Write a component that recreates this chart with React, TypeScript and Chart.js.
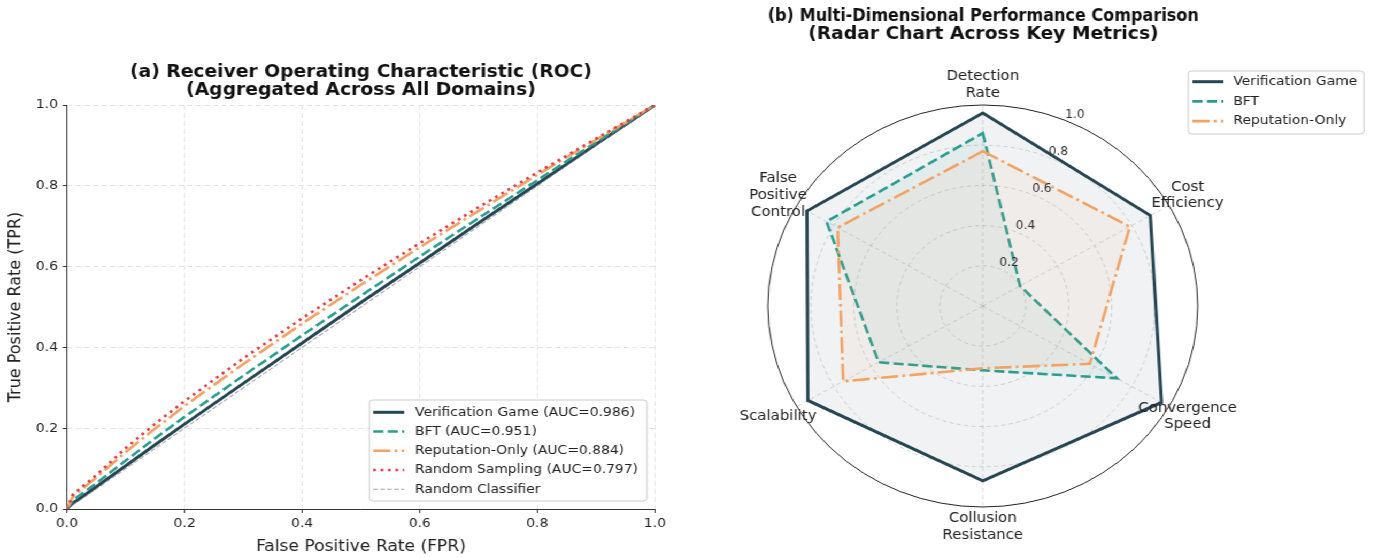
import React, { useEffect, useRef } from 'react';
import { Chart, registerables } from 'chart.js';

Chart.register(...registerables);

// ---------- data ----------
const fprPoints = [0, 0.01, 0.02, 0.05, 0.1, 0.15, 0.2, 0.3, 0.4, 0.5, 0.6, 0.7, 0.8, 0.9, 1.0];
const tprVerification = [0, 0.015, 0.024, 0.055, 0.107, 0.159, 0.21, 0.311, 0.411, 0.511, 0.609, 0.708, 0.805, 0.903, 1.0];
const tprBFT = [0, 0.021, 0.032, 0.064, 0.12, 0.175, 0.228, 0.33, 0.43, 0.528, 0.625, 0.72, 0.814, 0.908, 1.0];
const tprReputation = [0, 0.03, 0.042, 0.078, 0.141, 0.199, 0.255, 0.359, 0.459, 0.555, 0.648, 0.738, 0.827, 0.914, 1.0];
const tprRandomSampling = [0, 0.036, 0.048, 0.084, 0.151, 0.211, 0.267, 0.373, 0.472, 0.567, 0.658, 0.747, 0.833, 0.917, 1.0];
const diagonalX = [0, 1];
const diagonalY = [0, 1];
const rocLabels = [
  'Verification Game (AUC=0.986)',
  'BFT (AUC=0.951)',
  'Reputation-Only (AUC=0.884)',
  'Random Sampling (AUC=0.797)',
  'Random Classifier',
];
const rocTitle = ['(a) Receiver Operating Characteristic (ROC)', '(Aggregated Across All Domains)'];

const radarAxes = [
  ['Detection', 'Rate'],
  ['Cost', 'Efficiency'],
  ['Convergence', 'Speed'],
  ['Collusion', 'Resistance'],
  ['Scalability'],
  ['False', 'Positive', 'Control'],
];
const radarVerification = [0.96, 0.9, 0.96, 0.87, 0.94, 0.945];
const radarBFT = [0.86, 0.2, 0.72, 0.32, 0.56, 0.84];
const radarReputation = [0.77, 0.79, 0.575, 0.31, 0.75, 0.78];
const radarSeries = ['Verification Game', 'BFT', 'Reputation-Only'];
const radarTicks = [0.2, 0.4, 0.6, 0.8, 1.0];
const radarTitle = ['(b) Multi-Dimensional Performance Comparison', '(Radar Chart Across Key Metrics)'];

// ---------- styles ----------
const FONT = '"DejaVu Sans", "Liberation Sans", sans-serif';
const DESIGN_W = 1285.7;
const SX = 1375 / DESIGN_W;
const C_VG = '#264653';
const C_BFT = '#2a9d8f';
const C_REP = '#f4a261';
const C_RS = '#e63946';
const DASH_BFT = [9.5, 4];
const DASH_REP = [16, 4, 2.6, 4];
const DASH_RS = [2.6, 4.3];

type LegendBox = { x: number; y: number; w: number; h: number; row0: number; gap: number; l0: number; l1: number; tx: number };

function drawLegend(chart: any, box: LegendBox) {
  const ctx: CanvasRenderingContext2D = chart.ctx;
  ctx.save();
  ctx.beginPath();
  const r = 3;
  ctx.moveTo(box.x + r, box.y);
  ctx.arcTo(box.x + box.w, box.y, box.x + box.w, box.y + box.h, r);
  ctx.arcTo(box.x + box.w, box.y + box.h, box.x, box.y + box.h, r);
  ctx.arcTo(box.x, box.y + box.h, box.x, box.y, r);
  ctx.arcTo(box.x, box.y, box.x + box.w, box.y, r);
  ctx.closePath();
  ctx.fillStyle = 'rgba(255,255,255,0.85)';
  ctx.fill();
  ctx.strokeStyle = '#cccccc';
  ctx.lineWidth = 1;
  ctx.stroke();
  chart.data.datasets.forEach((ds: any, i: number) => {
    const y = box.row0 + i * box.gap;
    ctx.beginPath();
    ctx.setLineDash(ds.borderDash || []);
    ctx.lineWidth = ds.borderWidth;
    ctx.strokeStyle = ds.borderColor;
    ctx.moveTo(box.l0, y);
    ctx.lineTo(box.l1, y);
    ctx.stroke();
    ctx.setLineDash([]);
    ctx.fillStyle = '#222';
    ctx.font = `13px ${FONT}`;
    ctx.textAlign = 'left';
    ctx.textBaseline = 'middle';
    ctx.fillText(ds.label, box.tx, y);
  });
  ctx.restore();
}

function rocConfig(): any {
  const pts = (ys: number[]) => fprPoints.map((x, i) => ({ x, y: ys[i] }));
  const tickFont = { family: FONT, size: 13 };
  const axisCommon = {
    type: 'linear',
    min: 0,
    max: 1,
    grid: { color: '#e4e4e4', lineWidth: 1, tickColor: '#333', tickLength: 4, tickWidth: 1, tickBorderDash: [] },
    border: { color: '#333', width: 1, dash: [5, 3] },
  };
  return {
    type: 'line',
    data: {
      datasets: [
        { label: rocLabels[0], data: pts(tprVerification), borderColor: C_VG, borderWidth: 3, borderDash: [], order: 5 },
        { label: rocLabels[1], data: pts(tprBFT), borderColor: C_BFT, borderWidth: 2.6, borderDash: DASH_BFT, order: 4 },
        { label: rocLabels[2], data: pts(tprReputation), borderColor: C_REP, borderWidth: 2.6, borderDash: DASH_REP, order: 3 },
        { label: rocLabels[3], data: pts(tprRandomSampling), borderColor: C_RS, borderWidth: 2.6, borderDash: DASH_RS, order: 2 },
        {
          label: rocLabels[4],
          data: diagonalX.map((x, i) => ({ x, y: diagonalY[i] })),
          borderColor: 'rgba(120,120,120,0.65)',
          borderWidth: 1.1,
          borderDash: [4.5, 2],
          order: 1,
        },
      ],
    },
    options: {
      responsive: false,
      animation: false,
      events: [],
      elements: { point: { radius: 0 }, line: { tension: 0, fill: false } },
      layout: { padding: { left: 0, right: 27.6, top: 0, bottom: 0 } },
      plugins: {
        legend: { display: false },
        tooltip: { enabled: false },
        title: {
          display: true,
          fullSize: false,
          text: rocTitle,
          color: '#111',
          font: { family: FONT, size: 17.5, weight: 'bold', lineHeight: 1.05 },
          padding: { top: 62.8, bottom: 5.5 },
        },
      },
      scales: {
        x: {
          ...axisCommon,
          afterFit: (s: any) => { s.height = 49; },
          ticks: { stepSize: 0.2, autoSkip: false, maxRotation: 0, padding: 3, color: '#222', font: tickFont, callback: (v: any) => Number(v).toFixed(1) },
          title: { display: true, text: 'False Positive Rate (FPR)', color: '#222', font: { family: FONT, size: 16 }, padding: { top: 0, bottom: 1.5 } },
        },
        y: {
          ...axisCommon,
          afterFit: (s: any) => { s.width = 62.6; },
          ticks: { stepSize: 0.2, autoSkip: false, padding: 4.4, color: '#222', font: tickFont, callback: (v: any) => Number(v).toFixed(1) },
          title: { display: true, text: 'True Positive Rate (TPR)', color: '#222', font: { family: FONT, size: 16 }, padding: { top: 5.5, bottom: 0 } },
        },
      },
    },
    plugins: [
      {
        id: 'rocLegend',
        afterDraw(chart: any) {
          drawLegend(chart, { x: 345.3, y: 400, w: 259.7, h: 101, row0: 412.3, gap: 19.25, l0: 349, l1: 378, tx: 388 });
        },
      },
    ],
  };
}

function radarConfig(): any {
  const gridGray = 'rgba(140,140,140,0.42)';
  return {
    type: 'radar',
    data: {
      labels: radarAxes,
      datasets: [
        { label: radarSeries[0], data: radarVerification, borderColor: C_VG, backgroundColor: 'rgba(38,70,83,0.07)', borderWidth: 3, borderDash: [], fill: true, order: 3 },
        { label: radarSeries[1], data: radarBFT, borderColor: C_BFT, backgroundColor: 'rgba(42,157,143,0.07)', borderWidth: 2.6, borderDash: DASH_BFT, fill: true, order: 2 },
        { label: radarSeries[2], data: radarReputation, borderColor: C_REP, backgroundColor: 'rgba(244,162,97,0.07)', borderWidth: 2.6, borderDash: DASH_REP, fill: true, order: 1 },
      ],
    },
    options: {
      responsive: false,
      animation: false,
      events: [],
      elements: { point: { radius: 0 }, line: { tension: 0 } },
      layout: { padding: { left: 78, right: 165, top: 0, bottom: 50 } },
      plugins: {
        legend: { display: false },
        tooltip: { enabled: false },
        title: {
          display: true,
          fullSize: false,
          text: radarTitle,
          color: '#111',
          font: { family: FONT, size: 17.5, weight: 'bold', lineHeight: 1.05 },
          padding: { top: 6.8, bottom: 61.5 },
        },
      },
      scales: {
        r: {
          min: 0,
          max: 1,
          ticks: { stepSize: 0.2, display: false },
          pointLabels: { display: false },
          grid: {
            circular: true,
            lineWidth: 0.8,
            color: (c: any) => (c.tick && c.tick.value > 0.99 ? 'rgba(0,0,0,0)' : gridGray),
          },
          border: { dash: [4, 3] },
          angleLines: { color: gridGray, lineWidth: 0.8, borderDash: [4, 3] },
        },
      },
    },
    plugins: [
      {
        id: 'radarDecor',
        afterDraw(chart: any) {
          const s = chart.scales.r;
          const ctx: CanvasRenderingContext2D = chart.ctx;
          ctx.save();
          ctx.beginPath();
          ctx.arc(s.xCenter, s.yCenter, s.drawingArea, 0, Math.PI * 2);
          ctx.strokeStyle = '#222';
          ctx.lineWidth = 1;
          ctx.stroke();
          const a = (22.5 * Math.PI) / 180;
          ctx.font = `11.5px ${FONT}`;
          ctx.fillStyle = '#333';
          ctx.textAlign = 'left';
          ctx.textBaseline = 'bottom';
          radarTicks.forEach((v) => {
            const r = s.getDistanceFromCenterForValue(v);
            ctx.fillText(v.toFixed(1), s.xCenter + r * Math.sin(a), s.yCenter - r * Math.cos(a));
          });
          ctx.font = `14px ${FONT}`;
          ctx.fillStyle = '#222';
          ctx.textAlign = 'center';
          ctx.textBaseline = 'middle';
          const lh = 16.6;
          chart.data.labels.forEach((lab: any, i: number) => {
            const p = s.getPointPosition(i, s.drawingArea * 1.1);
            const lines = Array.isArray(lab) ? lab : [lab];
            lines.forEach((t: string, j: number) => {
              ctx.fillText(t, p.x, p.y + (j - (lines.length - 1) / 2) * lh);
            });
          });
          ctx.restore();
          drawLegend(chart, { x: 471.1, y: 71, w: 164.3, h: 63, row0: 81.7, gap: 19.7, l0: 475, l1: 504, tx: 513.2 });
        },
      },
    ],
  };
}

export default function App() {
  const leftRef = useRef<HTMLCanvasElement>(null);
  const rightRef = useRef<HTMLCanvasElement>(null);
  useEffect(() => {
    const c1 = new Chart(leftRef.current as HTMLCanvasElement, rocConfig());
    const c2 = new Chart(rightRef.current as HTMLCanvasElement, radarConfig());
    return () => {
      c1.destroy();
      c2.destroy();
    };
  }, []);
  return (
    <div
      style={{
        position: 'absolute',
        left: 0,
        top: 0,
        width: DESIGN_W,
        height: 558,
        background: '#fff',
        transform: `scaleX(${SX})`,
        transformOrigin: '0 0',
        overflow: 'hidden',
      }}
    >
      <canvas ref={leftRef} width={640} height={558} style={{ position: 'absolute', left: 0, top: 0 }} />
      <canvas ref={rightRef} width={646} height={558} style={{ position: 'absolute', left: 640, top: 0 }} />
    </div>
  );
}
